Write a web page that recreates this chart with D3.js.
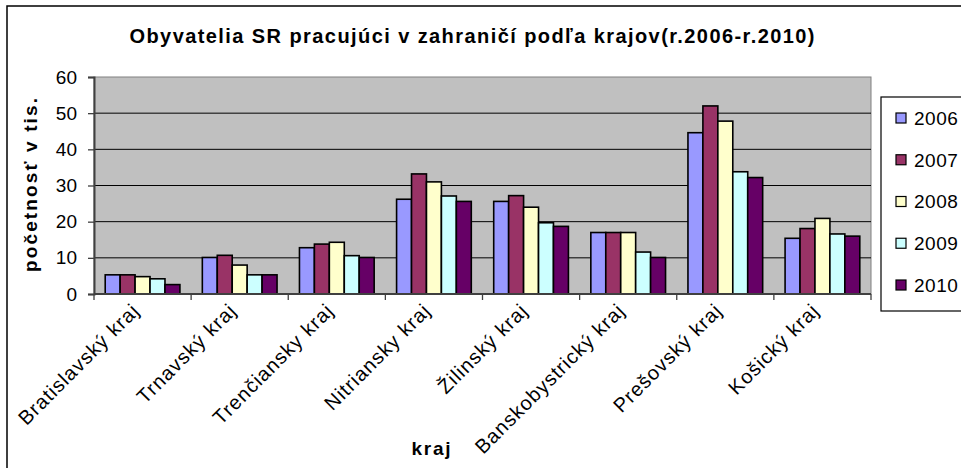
<!DOCTYPE html>
<html>
<head>
<meta charset="utf-8">
<script src="https://cdn.jsdelivr.net/npm/d3@7"></script>
<style>
  html, body { margin: 0; padding: 0; background: #fff; }
  svg { display: block; }
  text { font-family: Arial, "Liberation Sans", sans-serif; }
</style>
</head>
<body>
<svg id="chart" width="961" height="468"></svg>
<script>
const categories = ["Bratislavský kraj", "Trnavský kraj", "Trenčiansky kraj", "Nitriansky kraj",
                    "Žilinský kraj", "Banskobystrický kraj", "Prešovský kraj", "Košický kraj"];
const years = ["2006", "2007", "2008", "2009", "2010"];
const v2006 = [5.3, 10.1, 12.8, 26.2, 25.6, 17.0, 44.6, 15.4];
const v2007 = [5.3, 10.7, 13.8, 33.2, 27.2, 17.0, 52.0, 18.1];
const v2008 = [4.8, 8.0, 14.3, 31.0, 24.0, 17.0, 47.8, 20.9];
const v2009 = [4.2, 5.3, 10.6, 27.1, 19.7, 11.6, 33.8, 16.6];
const v2010 = [2.6, 5.3, 10.1, 25.6, 18.7, 10.1, 32.2, 16.0];
const yTicks = [0, 10, 20, 30, 40, 50, 60];
const colors = ["#9999FF", "#993366", "#FFFFCC", "#CCFFFF", "#660066"];
const titleText = "Obyvatelia SR pracujúci v zahraničí podľa krajov(r.2006-r.2010)";
const yTitle = "početnosť v tis.";
const xTitle = "kraj";

const series = [v2006, v2007, v2008, v2009, v2010];

const svg = d3.select("#chart");
const L = 94, R = 871, T = 77, B = 294;

// outer chart border
svg.append("rect").attr("x", 7).attr("y", 6).attr("width", 1000).attr("height", 500)
  .attr("fill", "#fff").attr("stroke", "#000").attr("stroke-width", 1.5);

const x = d3.scaleBand().domain(categories).range([L, R]).padding(0);
const bw = x.bandwidth();
const gap = bw * 1.5 / 6.5;
const xs = d3.scaleBand().domain(years).range([gap / 2, bw - gap / 2]).padding(0);
const y = d3.scaleLinear().domain([0, 60]).range([B, T]);

// plot area
svg.append("rect").attr("x", L).attr("y", T).attr("width", R - L).attr("height", B - T)
  .attr("fill", "#C0C0C0").attr("stroke", "#808080").attr("stroke-width", 1);

// gridlines
svg.append("g").selectAll("line").data(yTicks.filter(d => d > 0 && d < 60)).join("line")
  .attr("x1", L).attr("x2", R).attr("y1", d => y(d)).attr("y2", d => y(d))
  .attr("stroke", "#000").attr("stroke-width", 1);

// bars
const groups = svg.append("g").selectAll("g").data(years).join("g")
  .attr("fill", (d, i) => colors[i]);
groups.selectAll("rect").data((yr, i) => series[i].map((v, j) => ({ yr, v, cat: categories[j] })))
  .join("rect")
  .attr("x", d => x(d.cat) + xs(d.yr))
  .attr("width", xs.bandwidth())
  .attr("y", d => y(d.v))
  .attr("height", d => B - y(d.v))
  .attr("stroke", "#000").attr("stroke-width", 1.6);

// y axis
const yAxis = svg.append("g").attr("transform", `translate(${L},0)`)
  .call(d3.axisLeft(y).tickValues(yTicks).tickSize(6).tickPadding(11).tickFormat(d3.format("d")));
yAxis.select(".domain").attr("stroke", "#404040").attr("stroke-width", 2);
yAxis.selectAll(".tick line").attr("stroke", "#404040").attr("stroke-width", 1.3);
yAxis.selectAll("text").attr("font-size", 19).attr("fill", "#000")
  .attr("font-family", "Arial, 'Liberation Sans', sans-serif");

// x axis
const xAxisG = svg.append("g");
xAxisG.append("line").attr("x1", L).attr("x2", R).attr("y1", B).attr("y2", B)
  .attr("stroke", "#404040").attr("stroke-width", 2);
const bounds = categories.map(c => x(c)).concat([R]);
xAxisG.selectAll("line.tk").data(bounds).join("line").attr("class", "tk")
  .attr("x1", d => d).attr("x2", d => d).attr("y1", B).attr("y2", B + 6)
  .attr("stroke", "#404040").attr("stroke-width", 1.3);
xAxisG.selectAll("text").data(categories).join("text")
  .attr("transform", d => `translate(${x(d) + bw / 2 - 2},${B + 18}) rotate(-45)`)
  .attr("text-anchor", "end")
  .attr("font-size", 20)
  .style("letter-spacing", "1px")
  .text(d => d);

// title
svg.append("text").attr("x", 472).attr("y", 43).attr("text-anchor", "middle")
  .attr("font-size", 20).attr("font-weight", "bold")
  .attr("textLength", 685).attr("lengthAdjust", "spacing")
  .text(titleText);

// y title
svg.append("text").attr("transform", "translate(37,185) rotate(-90)")
  .attr("text-anchor", "middle").attr("font-size", 19).attr("font-weight", "bold")
  .attr("textLength", 174).attr("lengthAdjust", "spacing")
  .text(yTitle);

// x title
svg.append("text").attr("x", 431).attr("y", 455).attr("text-anchor", "middle")
  .attr("font-size", 19).attr("font-weight", "bold")
  .attr("textLength", 39).attr("lengthAdjust", "spacing")
  .text(xTitle);

// legend
const lg = svg.append("g");
lg.append("rect").attr("x", 881).attr("y", 97).attr("width", 120).attr("height", 214)
  .attr("fill", "#fff").attr("stroke", "#000").attr("stroke-width", 1.2);
const ly = d3.scalePoint().domain(years).range([118, 285]);
lg.selectAll("rect.sw").data(years).join("rect").attr("class", "sw")
  .attr("x", 896).attr("y", d => ly(d) - 5).attr("width", 10).attr("height", 10)
  .attr("fill", (d, i) => colors[i]).attr("stroke", "#000").attr("stroke-width", 1.2);
lg.selectAll("text").data(years).join("text")
  .attr("x", 914).attr("y", d => ly(d)).attr("dy", "0.36em")
  .attr("font-size", 19).style("letter-spacing", "0.5px")
  .text(d => d);
</script>
</body>
</html>
